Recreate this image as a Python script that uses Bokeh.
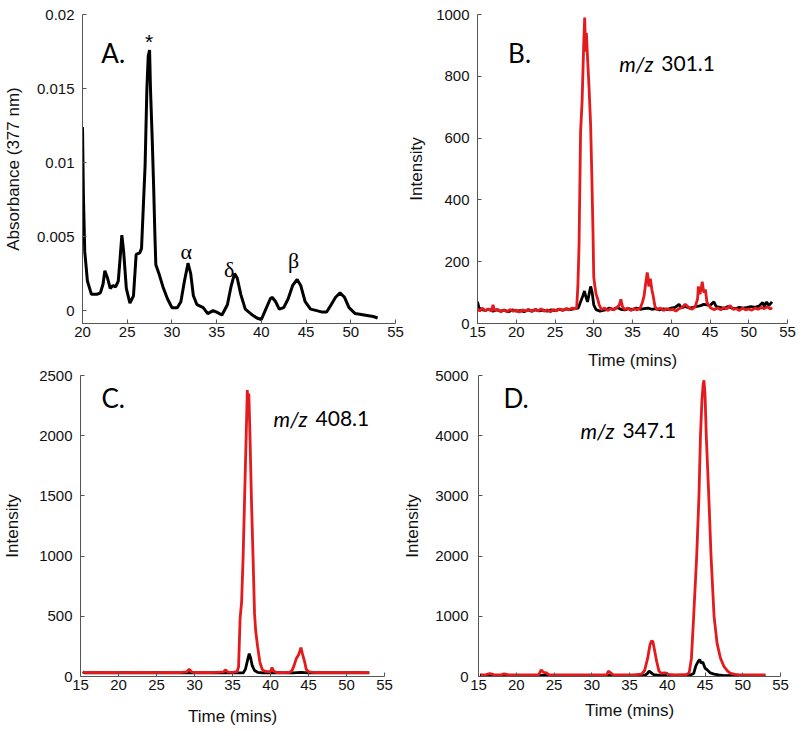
from bokeh.plotting import figure
from bokeh.layouts import column, row
from bokeh.models import Range1d, FixedTicker
from bokeh.core.properties import value
from bokeh.embed import file_html
from bokeh.resources import INLINE

# ---------------- data ----------------
# Panel A: UV absorbance at 377 nm
a_time = [20.0, 20.1, 20.25, 20.55, 21.0, 21.6, 22.0, 22.3, 22.5, 22.8, 23.1, 23.4, 23.7, 24.0,
          24.2, 24.4, 24.6, 24.9, 25.3, 25.7, 26.0, 26.4, 26.6, 26.8, 27.0, 27.2, 27.35, 27.5,
          27.6, 27.8, 27.95, 28.1, 28.2, 28.6, 29.0, 29.5, 30.0, 30.6, 31.0, 31.4, 31.8, 32.1,
          32.4, 32.8, 33.5, 34.0, 34.6, 35.0, 35.6, 36.2, 36.6, 37.0, 37.3, 37.7, 38.2, 39.0,
          39.5, 40.0, 40.5, 41.0, 41.2, 41.6, 42.0, 42.5, 43.0, 43.5, 44.0, 44.4, 44.9, 45.5,
          46.2, 46.8, 47.3, 47.8, 48.3, 48.8, 49.3, 49.8, 50.5, 51.5, 52.5, 53.0]
a_abs = [0.0124, 0.0078, 0.0040, 0.0020, 0.0011, 0.0011, 0.0012, 0.0018, 0.0027, 0.0022, 0.0015,
         0.0017, 0.0016, 0.0020, 0.0035, 0.0051, 0.0040, 0.0015, 0.0005, 0.0010, 0.0038, 0.0039,
         0.0042, 0.0070, 0.0098, 0.0150, 0.0172, 0.0176, 0.0150, 0.0115, 0.0085, 0.0050,
         0.0031, 0.0024, 0.0016, 0.0008, 0.0002, 0.0002, 0.0006, 0.0020, 0.0032, 0.0025,
         0.0010, 0.0004, 0.0002, -0.0002, 0.0000, -0.0001, -0.0003, 0.0004, 0.0016, 0.0025,
         0.0022, 0.0011, 0.0001, -0.0003, -0.0005, -0.0006, 0.0001, 0.0008, 0.0009, 0.0006,
         0.0001, 0.0002, 0.0008, 0.0017, 0.0021, 0.0017, 0.0006, 0.0001, 0.0000, -0.0001,
         -0.0001, 0.0004, 0.0009, 0.0012, 0.0009, 0.0002, -0.0002, -0.0003, -0.0004, -0.0005]

# Panel B: m/z 301.1
b_red_time = [15.0, 15.3, 15.6, 16.0, 16.4, 16.8, 17.0, 17.2, 17.6, 18.0, 18.4, 18.8, 19.2, 19.6,
              20.0, 20.4, 20.8, 21.2, 21.6, 22.0, 22.4, 22.8, 23.2, 23.6, 24.0, 24.4, 24.8, 25.2,
              25.6, 26.0, 26.4, 26.8, 27.2, 27.6, 27.8, 27.95, 28.1, 28.3, 28.5, 28.7, 28.83,
              28.95, 29.05, 29.2, 29.4, 29.6, 29.75, 29.9, 30.0, 30.1, 30.3, 30.5, 30.7, 31.0,
              31.4, 31.8, 32.2, 32.6, 33.0, 33.3, 33.5, 33.7, 34.0, 34.4, 34.8, 35.2, 35.6, 36.0,
              36.3, 36.5, 36.7, 36.9, 37.0, 37.1, 37.3, 37.5, 37.7, 37.9, 38.2, 38.6, 39.0, 39.4,
              39.8, 40.2, 40.6, 41.0, 41.4, 41.8, 42.0, 42.3, 42.7, 43.1, 43.4, 43.5, 43.7, 43.9,
              44.0, 44.2, 44.4, 44.6, 44.8, 45.1, 45.5, 46.0, 46.4, 46.8, 47.2, 47.6, 48.0, 48.4,
              48.8, 49.2, 49.6, 50.0, 50.4, 50.8, 51.2, 51.6, 52.0, 52.4, 52.8, 53.0]
b_red_int = [48, 40, 50, 42, 47, 40, 60, 42, 46, 38, 44, 38, 45, 40,
             43, 37, 44, 40, 46, 39, 45, 41, 47, 40, 44, 38, 45, 41,
             47, 42, 48, 44, 50, 47, 52, 120, 250, 620, 720, 900, 990,
             880, 940, 860, 760, 640, 480, 300, 150, 130, 95, 80, 60, 45,
             50, 42, 48, 44, 52, 60, 78, 55, 45, 50, 42, 48, 44, 50,
             70, 90, 130, 165, 150, 120, 145, 110, 85, 55, 45, 50, 42, 48,
             44, 46, 40, 48, 52, 62, 58, 50, 46, 55, 80, 120, 95, 120,
             135, 100, 110, 70, 60, 50, 45, 50, 44, 52, 48, 58, 46, 48,
             42, 50, 44, 47, 43, 50, 46, 52, 48, 54, 47, 52]
b_blk_time = [15.0, 15.2, 15.6, 16.0, 16.5, 17.0, 17.5, 18.0, 18.5, 19.0, 19.5, 20.0, 20.5, 21.0,
              21.5, 22.0, 22.5, 23.0, 23.5, 24.0, 24.5, 25.0, 25.5, 26.0, 26.5, 27.0, 27.5, 28.0,
              28.3, 28.6, 28.8, 29.0, 29.2, 29.4, 29.6, 29.8, 30.0, 30.3, 30.8, 31.5, 32.0, 32.5,
              33.0, 33.5, 34.0, 34.5, 35.0, 35.5, 36.0, 36.5, 37.0, 37.5, 38.0, 38.5, 39.0, 39.5,
              40.0, 40.5, 41.0, 41.3, 41.8, 42.3, 42.8, 43.3, 43.8, 44.2, 44.6, 45.0, 45.5, 45.8,
              46.3, 46.8, 47.3, 47.8, 48.3, 48.8, 49.3, 49.8, 50.3, 50.8, 51.3, 51.8, 52.0, 52.3,
              52.6, 53.0]
b_blk_int = [70, 50, 45, 42, 46, 40, 44, 40, 43, 38, 44, 40, 42, 38,
             44, 40, 45, 41, 43, 40, 44, 42, 46, 43, 47, 45, 48, 50,
             70, 90, 105, 85, 70, 95, 120, 100, 60, 45, 40, 44, 50, 45,
             52, 46, 44, 48, 45, 50, 46, 48, 50, 46, 48, 44, 47, 45,
             50, 52, 62, 50, 55, 50, 52, 55, 58, 62, 60, 58, 70, 55,
             52, 48, 55, 50, 48, 52, 50, 52, 55, 52, 56, 68, 55, 70,
             58, 70]

# Panel C: m/z 408.1
c_red_time = [15.3, 16.0, 17.0, 18.0, 19.0, 20.0, 21.0, 22.0, 23.0, 24.0, 25.0, 26.0, 27.0, 28.0,
              29.0, 29.3, 29.6, 30.0, 31.0, 32.0, 33.0, 33.8, 34.1, 34.4, 35.0, 35.6, 35.8, 36.0,
              36.2, 36.4, 36.6, 36.8, 36.95, 37.05, 37.15, 37.3, 37.5, 37.7, 37.9, 38.05, 38.3,
              38.6, 38.9, 39.2, 39.6, 40.0, 40.2, 40.4, 40.8, 41.5, 42.0, 42.5, 42.8, 43.1, 43.4,
              43.7, 44.0, 44.2, 44.5, 44.7, 45.0, 45.5, 46.0, 47.0, 48.0, 49.0, 50.0, 51.0, 52.0,
              53.0]
c_red_int = [35, 33, 34, 32, 34, 33, 32, 33, 34, 33, 32, 33, 34, 33,
             38, 60, 38, 33, 34, 33, 34, 38, 55, 36, 34, 40, 80, 480,
             620, 1000, 1500, 2000, 2380, 2250, 2350, 2000, 1450, 1000, 520, 380, 250,
             120, 60, 45, 40, 40, 75, 45, 33, 34, 33, 35, 45, 90, 150,
             180, 240, 190, 120, 60, 40, 35, 33, 34, 33, 35, 33, 34, 32,
             33]
c_blk_time = [15.3, 15.6, 17.0, 19.0, 21.0, 23.0, 25.0, 27.0, 29.0, 31.0, 33.0, 35.0, 36.4, 36.7,
              37.0, 37.2, 37.4, 37.6, 37.9, 38.3, 39.0, 41.0, 43.0, 44.0, 45.0, 47.0, 49.0, 51.0,
              53.0]
c_blk_int = [40, 30, 32, 30, 31, 30, 32, 30, 31, 30, 32, 30, 30, 60,
             140, 190, 150, 90, 50, 35, 30, 31, 30, 35, 30, 31, 30, 32,
             30]

# Panel D: m/z 347.1
d_red_time = [15.3, 16.0, 16.5, 17.0, 18.0, 18.4, 19.0, 20.0, 21.0, 22.0, 23.0, 23.3, 23.6, 24.0,
              24.3, 25.0, 26.0, 27.0, 28.0, 29.0, 30.0, 31.0, 32.0, 32.2, 32.5, 32.8, 33.5, 34.5,
              35.5, 36.6, 37.0, 37.4, 37.7, 37.9, 38.1, 38.3, 38.6, 38.9, 39.2, 39.6, 39.9, 40.2,
              41.0, 42.0, 42.5, 42.9, 43.2, 43.5, 43.9, 44.2, 44.4, 44.6, 44.75, 44.86, 45.0, 45.17,
              45.5, 45.8, 46.2, 46.6, 47.06, 47.5, 48.0, 48.4, 49.0, 49.5, 50.5, 51.5, 52.5,
              53.0]
d_red_int = [25, 30, 50, 30, 28, 45, 28, 27, 28, 27, 30, 110, 70, 60,
             30, 28, 27, 28, 27, 28, 27, 28, 30, 90, 60, 30, 28, 27,
             28, 40, 100, 300, 520, 590, 580, 450, 250, 90, 50, 60, 55, 35,
             28, 30, 30, 60, 300, 1000, 2000, 3000, 4000, 4600, 4850, 4920, 4700, 4000,
             3000, 2000, 1000, 550, 300, 170, 90, 50, 35, 30, 28, 27, 28, 27,
             28]
d_blk_time = [15.2, 15.5, 17.0, 19.0, 21.0, 23.0, 25.0, 27.0, 29.0, 31.0, 33.0, 35.0, 37.0, 37.3,
              37.6, 37.9, 38.2, 39.0, 41.0, 43.0, 43.5, 43.8, 44.1, 44.3, 44.5, 44.7, 45.0, 45.3,
              45.7, 46.2, 46.8, 47.5, 49.0, 51.0, 53.0]
d_blk_int = [25, 18, 20, 18, 20, 18, 20, 19, 20, 18, 20, 19, 20, 40,
             90, 60, 30, 20, 18, 20, 50, 180, 250, 280, 220, 240, 140, 110,
             60, 40, 25, 15, 18, 16, 18]

x_ticks_a = [20, 25, 30, 35, 40, 45, 50, 55]
x_ticks_ms = [15, 20, 25, 30, 35, 40, 45, 50, 55]
y_ticks_a = [0, 0.005, 0.01, 0.015, 0.02]
y_labels_a = ["0", "0.005", "0.01", "0.015", "0.02"]
y_ticks_b = [0, 200, 400, 600, 800, 1000]
y_ticks_c = [0, 500, 1000, 1500, 2000, 2500]
y_ticks_d = [0, 1000, 2000, 3000, 4000, 5000]

RED = "#e41a1c"
AXIS = "#555555"


def make_fig(width, height, xr, yr, xticks, yticks, ylabel, xlabel, left, right, top, bottom,
             y_lab_standoff, y_tick_standoff, x_lab_standoff):
    p = figure(width=width, height=height, x_range=Range1d(*xr), y_range=Range1d(*yr),
               output_backend="svg", toolbar_location=None,
               min_border_left=left, min_border_right=right,
               min_border_top=top, min_border_bottom=bottom)
    p.xgrid.visible = False
    p.ygrid.visible = False
    p.outline_line_color = None
    p.background_fill_color = None
    p.border_fill_color = None
    for ax in p.axis:
        ax.major_tick_in = 4
        ax.major_tick_out = 0
        ax.minor_tick_line_color = None
        ax.axis_line_color = AXIS
        ax.major_tick_line_color = AXIS
        ax.major_label_text_font = "Liberation Sans"
        ax.major_label_text_font_size = "15px"
        ax.major_label_text_color = "#111111"
        ax.axis_label_text_font = "Liberation Sans"
        ax.axis_label_text_font_size = "17px"
        ax.axis_label_text_font_style = "normal"
        ax.axis_label_text_color = "#111111"
    p.xaxis.ticker = FixedTicker(ticks=xticks)
    p.yaxis.ticker = FixedTicker(ticks=yticks)
    p.yaxis.major_label_standoff = y_tick_standoff
    p.xaxis.major_label_standoff = 3
    p.yaxis.axis_label = ylabel
    p.yaxis.axis_label_standoff = y_lab_standoff
    if xlabel:
        p.xaxis.axis_label = xlabel
        p.xaxis.axis_label_standoff = x_lab_standoff
    return p


def add_label(p, x, y, letter, mz, mz_x, mz_y):
    p.text(x=[x], y=[y], text=[letter], text_font=value("Lato"), text_font_size="26px",
           text_baseline="alphabetic", text_align="left", text_color="black")
    p.text(x=[mz_x], y=[mz_y], text=["m/z"], text_font=value("Lato"),
           text_font_size="21px", text_font_style="italic",
           text_baseline="alphabetic", text_align="left", text_color="black")
    p.text(x=[mz_x], y=[mz_y], text=[mz], text_font=value("Lato"),
           text_font_size="21px", x_offset=42,
           text_baseline="alphabetic", text_align="left", text_color="black")


# Panel A
pa = make_fig(404, 372, (20, 55), (-0.00087, 0.02), x_ticks_a, y_ticks_a,
              "Absorbance (377 nm)", None, 81, 9, 14, 46, 11, 8, 0)
pa.yaxis.major_label_overrides = dict(zip(y_ticks_a, y_labels_a))
pa.line(a_time, a_abs, line_color="black", line_width=3)
pa.text(x=[22.1], y=[0.0174], text=["A."], text_font=value("Lato"), text_font_size="26px",
        text_baseline="alphabetic", text_align="left", text_color="black")
pa.text(x=[27.45], y=[0.0182], text=["*"], text_font=value("Liberation Sans"),
        text_font_size="21px", text_baseline="alphabetic", text_align="center",
        text_color="black")
pa.text(x=[31.6, 36.4, 43.6], y=[0.0040, 0.0028, 0.0034], text=["α", "δ", "β"],
        text_font=value("Liberation Serif"), text_font_size="22px",
        text_baseline="alphabetic", text_align="center", text_color="black")

# Panel B
pb = make_fig(396, 372, (15, 55), (0, 1000), x_ticks_ms, y_ticks_b,
              "Intensity", "Time (mins)", 69, 13, 14, 46, 7, 8, 11)
pb.line(b_blk_time, b_blk_int, line_color="black", line_width=2.8)
pb.line(b_red_time, b_red_int, line_color=RED, line_width=2.8)
add_label(pb, 18.95, 875, "B.", "301.1", 33.3, 840)

# Panel C
pc = make_fig(400, 370, (15, 55), (0, 2500), x_ticks_ms, y_ticks_c,
              "Intensity", "Time (mins)", 79, 16, 15, 51, 14, 8, 14)
pc.line(c_blk_time, c_blk_int, line_color="black", line_width=2.8)
pc.line(c_red_time, c_red_int, line_color=RED, line_width=2.8)
add_label(pc, 17.75, 2311, "C.", "408.1", 40.4, 2146)
pc.margin = (-12, 0, 0, 0)

# Panel D
pd_ = make_fig(400, 370, (15, 55), (0, 5000), x_ticks_ms, y_ticks_d,
               "Intensity", "Time (mins)", 78, 20, 15, 54, 10, 10, 8)
pd_.line(d_blk_time, d_blk_int, line_color="black", line_width=2.8)
pd_.line(d_red_time, d_red_int, line_color=RED, line_width=2.8)
add_label(pd_, 18.3, 4618, "D.", "347.1", 28.5, 4086)
pd_.margin = (-12, 0, 0, 0)

layout = column(row(pa, pb), row(pc, pd_))

open("out.html", "w").write(file_html(layout, INLINE))
